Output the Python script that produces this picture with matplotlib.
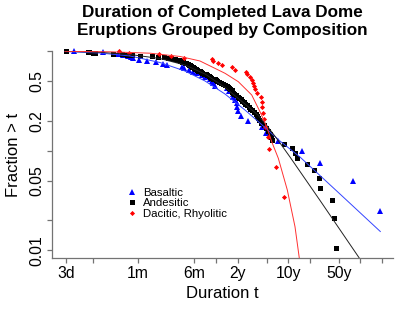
import numpy as np
import matplotlib
matplotlib.use('Agg')
import matplotlib.pyplot as plt
from matplotlib.ticker import NullLocator

plt.rcParams['font.family'] = ['Liberation Sans', 'DejaVu Sans']

# eruption durations in days
basaltic = [3.87, 9.88, 15.8, 18.4, 21.8, 23.9, 25.8, 31.2, 40.3, 53.2,
            66.5, 75.6, 121, 130, 154, 172, 195, 229, 255, 303,
            316, 332, 351, 519, 548, 617, 629, 664, 697, 715,
            724, 792, 1016, 1574, 1787, 2649, 5598, 10140, 29100, 69000]
andesitic = [3, 6, 6.25, 7, 7.58, 13.3, 17.8, 20.9, 24.5, 31.9,
             46.8, 56.8, 68.7, 78, 85.9, 91.6, 97.7, 104, 111, 116,
             122, 128, 134, 141, 148, 153, 158, 163, 168, 173,
             179, 185, 191, 197, 204, 214, 224, 235, 247, 259,
             272, 285, 299, 313, 332, 351, 362, 379, 398, 425,
             446, 475, 509, 531, 557, 575, 598, 613, 633, 653,
             686, 731, 755, 792, 830, 885, 929, 975, 1023, 1072,
             1143, 1219, 1279, 1343, 1384, 1453, 1549, 1679, 1816, 1923,
             2032, 2084, 2188, 3178, 4064, 4518, 4764, 6730, 8375, 9820,
             10050, 14720, 15560, 16600]
dacitic = [16.5, 22.5, 59.2, 85.9, 131.4, 315.6, 325.8, 389.6, 434.5, 598,
           664, 944, 966, 1072, 1132, 1169, 1219, 1259, 1328, 1510,
           1559, 1570, 1610, 1679, 1733, 1925, 1968, 2438, 3178]

# fitted curves (days, fraction)
fit_bas_t = [2.9, 8.89, 23.2, 60.4, 134, 255, 483, 914, 1476, 2799, 5297, 19010, 69000]
fit_bas_f = [0.995, 0.961, 0.897, 0.772, 0.634, 0.503, 0.372, 0.257, 0.190, 0.1254, 0.0866, 0.0368, 0.01545]
fit_and_t = [2.9, 8.89, 23.2, 60.4, 134, 255, 483, 914, 1384, 1905, 2799, 3852, 10050, 38840]
fit_and_f = [1.0, 0.977, 0.929, 0.846, 0.728, 0.591, 0.433, 0.295, 0.229, 0.1735, 0.1198, 0.0866, 0.0317, 0.00754]
fit_dac_t = [2.9, 12.2, 44, 115, 217, 483, 738, 1133, 1476, 1828, 2147, 2651, 3533, 4518, 5297]
fit_dac_f = [1.0, 0.9885, 0.957, 0.887, 0.799, 0.601, 0.495, 0.364, 0.247, 0.1747, 0.1234, 0.0841, 0.0404, 0.01727, 0.00745]

xticks = [3, 7, 30, 180, 365, 730, 1826, 3650, 7300, 18250, 36500, 73000]
xlabels = ['3d', '', '1m', '6m', '', '2y', '', '10y', '', '50y', '', '']
yticks = [1, 0.5, 0.2, 0.1, 0.05, 0.02, 0.01]
ylabels = ['', '0.5', '0.2', '', '0.05', '', '0.01']


def surv(d):
    d = np.sort(np.asarray(d, dtype=float))
    n = len(d)
    return d, (n - np.arange(n)) / n


fig = plt.figure(figsize=(4.15, 3.12), dpi=100)
ax = fig.add_axes([52.3 / 415, 1 - 258 / 312, (393 - 52.3) / 415, (258 - 51.3) / 312])

t, f = surv(basaltic)
ax.plot(t, f, '^', color='#0000ff', ms=4.0, mew=0, clip_on=False, label='Basaltic')
t, f = surv(andesitic)
ax.plot(t, f, 's', color='black', ms=3.6, mew=0, clip_on=False, label='Andesitic')
t, f = surv(dacitic)
ax.plot(t, f, 'D', color='#ff0000', ms=2.6, mew=0, clip_on=False, label='Dacitic, Rhyolitic')

ax.plot(fit_bas_t, fit_bas_f, color='#3344ff', lw=0.7)
ax.plot(fit_and_t, fit_and_f, color='#222222', lw=0.7)
ax.plot(fit_dac_t, fit_dac_f, color='#ff3030', lw=0.7)

ax.set_xscale('log')
ax.set_yscale('log')
ax.set_xlim(1.936, 103500)
ax.set_ylim(0.00837, 1.0)
ax.xaxis.set_minor_locator(NullLocator())
ax.yaxis.set_minor_locator(NullLocator())
ax.set_xticks(xticks)
ax.set_xticklabels(xlabels)
ax.set_yticks(yticks)
ax.set_yticklabels(ylabels)
plt.setp(ax.get_yticklabels(), rotation=90, va='center')

for s in ['top', 'right']:
    ax.spines[s].set_visible(False)
for s in ['left', 'bottom']:
    ax.spines[s].set_color('0.45')
    ax.spines[s].set_linewidth(0.9)
ax.tick_params(direction='out', length=3.6, width=0.9, color='0.45', labelsize=11.3, pad=2.2)

fig.text(222.7 / 415, 1 - 16.7 / 312, 'Duration of Completed Lava Dome',
         ha='center', va='baseline', fontsize=12.3, fontweight='bold')
fig.text(222.7 / 415, 1 - 35.0 / 312, 'Eruptions Grouped by Composition',
         ha='center', va='baseline', fontsize=12.3, fontweight='bold')
fig.text(14 / 415, 1 - 154.6 / 312, 'Fraction > t', rotation=90,
         ha='center', va='center', fontsize=12)
fig.text(222.7 / 415, 1 - 293 / 312, 'Duration t', ha='center', va='center', fontsize=12)

ax.legend(loc='upper left', bbox_to_anchor=(0.217, 0.34), frameon=False,
          fontsize=8.2, handlelength=1, handletextpad=0.46, labelspacing=0.05,
          borderpad=0, borderaxespad=0, markerscale=1.0)

fig.savefig('out.png', dpi=100)
